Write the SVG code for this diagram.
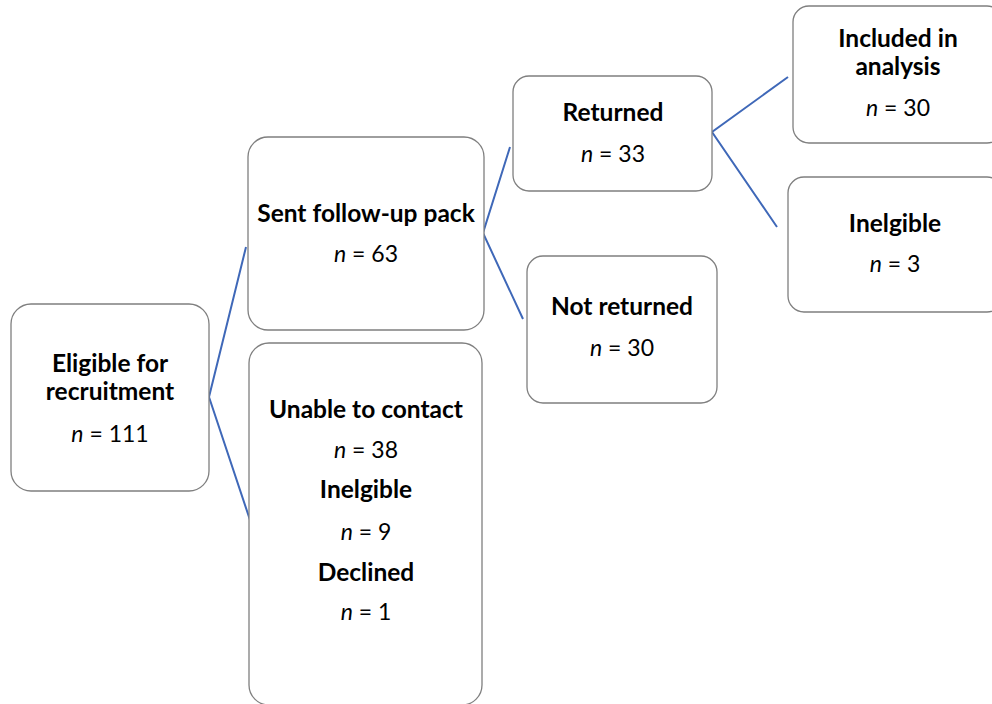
<svg xmlns="http://www.w3.org/2000/svg" width="992" height="704" viewBox="0 0 992 704">
<style>
.box{fill:#fff;stroke:#7f7f7f;stroke-width:1.3}
.t{font-family:Lato,"Liberation Sans",sans-serif;font-size:23px;fill:#000;text-anchor:middle}
.b{font-weight:bold;font-size:24.5px}
.i{font-style:italic}
.c{fill:none;stroke:#3f68b8;stroke-width:2}
</style>
<rect width="992" height="704" fill="#fff"/>
<g id="connectors">
<polyline class="c" points="246,247 209,397 250,520"/>
<polyline class="c" points="510,147 483,233 523,319"/>
<polyline class="c" points="788,77 712,132 777,227"/>
</g>
<g id="eligible">
<rect class="box" x="11" y="304" width="198" height="187" rx="20"/>
<text class="t b" x="110" y="372">Eligible for</text>
<text class="t b" x="110" y="400">recruitment</text>
<text class="t" x="110" y="442"><tspan class="i">n</tspan> = 111</text>
</g>
<g id="sent">
<rect class="box" x="248" y="137" width="236" height="193" rx="20"/>
<text class="t b" x="366" y="222">Sent follow-up pack</text>
<text class="t" x="366" y="262"><tspan class="i">n</tspan> = 63</text>
</g>
<g id="unable">
<rect class="box" x="249" y="343" width="233" height="362" rx="20"/>
<text class="t b" x="366" y="418">Unable to contact</text>
<text class="t" x="366" y="458"><tspan class="i">n</tspan> = 38</text>
<text class="t b" x="366" y="498">Inelgible</text>
<text class="t" x="366" y="540"><tspan class="i">n</tspan> = 9</text>
<text class="t b" x="366" y="581">Declined</text>
<text class="t" x="366" y="620"><tspan class="i">n</tspan> = 1</text>
</g>
<g id="returned">
<rect class="box" x="513" y="76" width="199" height="115" rx="16"/>
<text class="t b" x="613" y="121">Returned</text>
<text class="t" x="613" y="162"><tspan class="i">n</tspan> = 33</text>
</g>
<g id="notreturned">
<rect class="box" x="527" y="256" width="190" height="147" rx="16"/>
<text class="t b" x="622" y="315">Not returned</text>
<text class="t" x="622" y="356"><tspan class="i">n</tspan> = 30</text>
</g>
<g id="included">
<rect class="box" x="793" y="6" width="210" height="137" rx="16"/>
<text class="t b" x="898" y="47">Included in</text>
<text class="t b" x="898" y="75">analysis</text>
<text class="t" x="898" y="116"><tspan class="i">n</tspan> = 30</text>
</g>
<g id="inelgible2">
<rect class="box" x="788" y="177" width="215" height="135" rx="16"/>
<text class="t b" x="895" y="232">Inelgible</text>
<text class="t" x="895" y="272"><tspan class="i">n</tspan> = 3</text>
</g>
</svg>
